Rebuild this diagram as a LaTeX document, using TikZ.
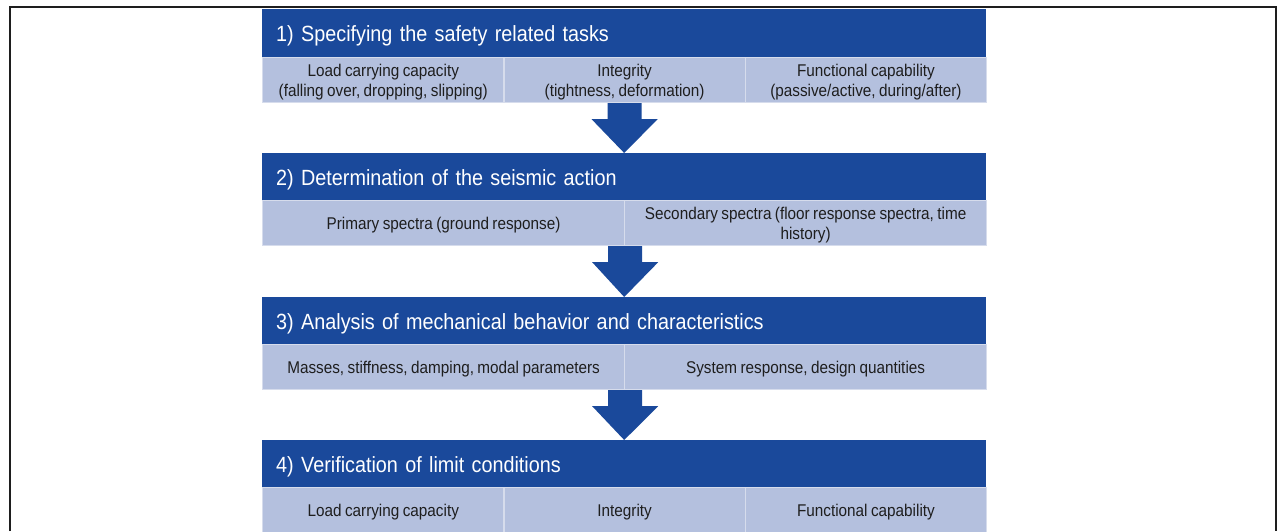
\documentclass[tikz,border=0pt]{standalone}
\usepackage{fontspec}
\setmainfont[FakeStretch=0.9, WordSpace=0.8]{Liberation Sans}
\usetikzlibrary{calc}
\definecolor{hdrblue}{RGB}{26,73,155}
\definecolor{cellblue}{RGB}{180,192,222}
\definecolor{celledge}{RGB}{214,220,236}
\definecolor{celltext}{RGB}{30,30,30}
\definecolor{framegray}{RGB}{30,30,30}
\tikzset{
  hdr/.style={fill=hdrblue, text=white, anchor=north west, inner xsep=14pt,
    text width=696pt, align=left, minimum height=48pt, text depth=0pt,
    font=\fontsize{22}{26}\selectfont},
  cell/.style={fill=cellblue, draw=celledge, line width=1.2pt, text=celltext,
    anchor=north west, inner sep=0pt, minimum height=45pt, align=center,
    text depth=0pt, font=\fontsize{17}{20}\selectfont},
  third/.style={cell, minimum width=241.33pt},
  half/.style={cell, minimum width=362pt},
  flow/.style={fill=hdrblue},
  frame/.style={draw=framegray, line width=2pt}
}
% block arrow from a row's bottom centre down to the next header
\newcommand\flowarrow[2]{%
  \fill[flow] ($(#1)+(-17,0)$) -- ($(#1)+(-17,16)$) -- ($(#1)+(-33,16)$)
    -- (#2) -- ($(#1)+(33,16)$) -- ($(#1)+(17,16)$) -- ($(#1)+(17,0)$) -- cycle;}
\begin{document}
\begin{tikzpicture}[x=1pt, y=-1pt]
\useasboundingbox (0,0) rectangle (1277,531);
\fill[white] (0,0) rectangle (1277,531);
\draw[frame] (10,531) -- (10,7) -- (1276,7) -- (1276,531);

% step 1
\node[hdr] (h1) at (262,9) {1) Specifying the safety related tasks};
\node[third] (s1a) at (262,57) {Load carrying capacity\\(falling over, dropping, slipping)};
\node[third] (s1b) at (503.33,57) {Integrity\\(tightness, deformation)};
\node[third] (s1c) at (744.67,57) {Functional capability\\(passive/active, during/after)};

% step 2
\node[hdr] (h2) at (262,153) {2) Determination of the seismic action};
\node[half] (s2a) at (262,200) {Primary spectra (ground response)};
\node[half] (s2b) at (624,200) {Secondary spectra (floor response spectra, time\\history)};

% step 3
\node[hdr] (h3) at (262,297) {3) Analysis of mechanical behavior and characteristics};
\node[half] (s3a) at (262,344) {Masses, stiffness, damping, modal parameters};
\node[half] (s3b) at (624,344) {System response, design quantities};

% step 4
\node[hdr] (h4) at (262,440) {4) Verification of limit conditions};
\node[third] (s4a) at (262,487) {Load carrying capacity};
\node[third] (s4b) at (503.33,487) {Integrity};
\node[third] (s4c) at (744.67,487) {Functional capability};

% arrows between the steps
\coordinate (b1) at (s1b.south);
\coordinate (b2) at (s2a.south east);
\coordinate (b3) at (s3a.south east);
\flowarrow{b1}{h2.north}
\flowarrow{b2}{h3.north}
\flowarrow{b3}{h4.north}
\end{tikzpicture}
\end{document}
